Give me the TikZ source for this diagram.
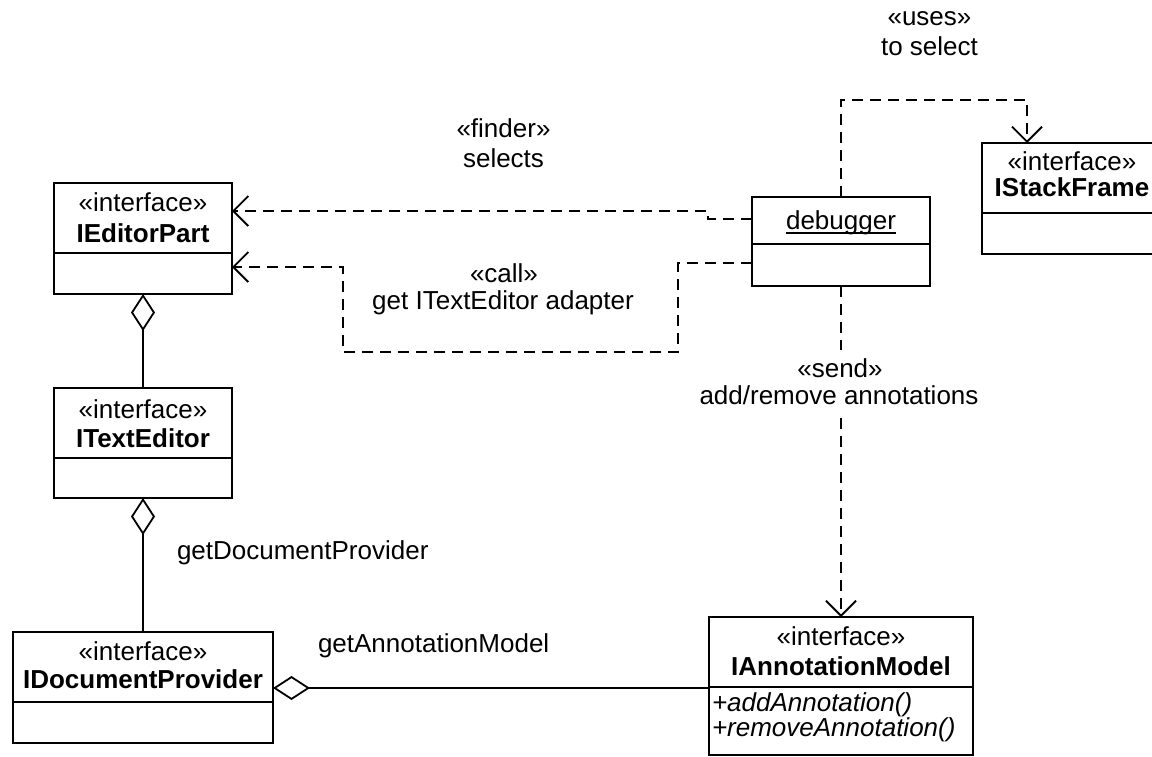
\documentclass[tikz,border=0pt]{standalone}
\usepackage{fontspec}
\setmainfont{Liberation Sans}
\usetikzlibrary{arrows.meta,calc}
\begin{document}
\begin{tikzpicture}[x=1pt,y=-1pt,
  every node/.style={font=\fontsize{26}{30}\selectfont, inner sep=0pt, outer sep=0pt},
  umlbox/.style={draw, line width=2.6pt, rectangle, inner sep=0pt},
  part/.style={line width=2.6pt},
  lbl/.style={anchor=base},
  lblw/.style={anchor=base west},
  cname/.style={anchor=base, font=\fontsize{26}{30}\selectfont\bfseries},
  oper/.style={anchor=base west, font=\fontsize{26}{30}\selectfont\itshape},
  dashline/.style={line width=1.8pt, dash pattern=on 11pt off 7pt},
  dep/.style={dashline, -{Straight Barb[length=15pt,width=30pt,line width=1.8pt]}},
  agg/.style={line width=1.8pt, {Diamond[open,length=37pt,width=24pt,line width=1.8pt]}-},
]
\useasboundingbox (0,0) rectangle (1152,756);

% ---- class boxes ----
\node[umlbox, minimum width=178pt, minimum height=111pt] (ep)  at (143,238.5) {};
\node[umlbox, minimum width=178pt, minimum height=110pt] (te)  at (143,443) {};
\node[umlbox, minimum width=260pt, minimum height=111pt] (dp)  at (143,687.5) {};
\node[umlbox, minimum width=178pt, minimum height=89pt]  (dbg) at (841,241.5) {};
\node[umlbox, minimum width=179pt, minimum height=111pt] (sf)  at (1071.5,198.5) {};
\node[umlbox, minimum width=264pt, minimum height=138pt] (am)  at (841,686) {};

% compartment dividers
\draw[part] ($(ep.north west)+(0,70)$) -- ($(ep.north east)+(0,70)$);
\draw[part] ($(te.north west)+(0,70)$) -- ($(te.north east)+(0,70)$);
\draw[part] ($(dp.north west)+(0,70)$) -- ($(dp.north east)+(0,70)$);
\draw[part] ($(dbg.north west)+(0,47)$) -- ($(dbg.north east)+(0,47)$);
\draw[part] ($(sf.north west)+(0,70)$) -- ($(sf.north east)+(0,70)$);
\draw[part] ($(am.north west)+(0,70)$) -- ($(am.north east)+(0,70)$);

% ---- class texts ----
\node[lbl]   (ep-s) at (143,211) {«interface»};
\node[cname] (ep-n) at (143,242) {IEditorPart};
\node[lbl]   (te-s) at (143,418) {«interface»};
\node[cname] (te-n) at (143,447) {ITextEditor};
\node[lbl]   (dp-s) at (143,660) {«interface»};
\node[cname] (dp-n) at (143,688) {IDocumentProvider};
\node[lbl]   (sf-s) at (1072,170) {«interface»};
\node[cname] (sf-n) at (1072,196) {IStackFrame};
\node[lbl]   (am-s) at (841,645) {«interface»};
\node[cname] (am-n) at (841,675) {IAnnotationModel};
\node[oper]  (am-o1) at (712,711) {+addAnnotation()};
\node[oper]  (am-o2) at (712,736) {+removeAnnotation()};
\node[lbl]   (dbg-n) at (841,229) {debugger};
\draw[line width=1.8pt] ($(dbg-n.base west)+(0,4)$) -- ($(dbg-n.base east)+(0,4)$);

% ---- connector labels ----
\node[lbl]  (uses1)   at (929.5,25)  {«uses»};
\node[lbl]  (uses2)   at (929.5,55)  {to select};
\node[lbl]  (finder1) at (503.5,137) {«finder»};
\node[lbl]  (finder2) at (503.5,167) {selects};
\node[lbl]  (call1)   at (504,282)   {«call»};
\node[lbl]  (call2)   at (503,309)   {get ITextEditor adapter};
\node[lbl]  (send1)   at (840,377)   {«send»};
\node[lbl]  (send2)   at (839,404)   {add/remove annotations};
\node[lblw] (gam)     at (318,652)   {getAnnotationModel};
\node[lblw] (gdp)     at (177,559)   {getDocumentProvider};

% ---- aggregations ----
\draw[agg] (ep.south) -- (te.north);
\draw[agg] (te.south) -- (dp.north);
\draw[agg] (dp.east |- 0,688) -- (am.west |- 0,688);

% ---- dependencies from the debugger ----
\draw[dep] ($(dbg.north west)+(0,22)$) -- (708,219) -- (708,211) -- ($(ep.north east)+(0,28)$);
\draw[dep] ($(dbg.north west)+(0,66)$) -- (678,263) -- (678,352) -- (343,352) -- (343,267) -- ($(ep.north east)+(0,84)$);
\draw[dep] (dbg.north) |- (1027,100) -- (sf.north west -| 1027,0);
\coordinate (sendA) at (dbg.south |- 0,350);
\coordinate (sendB) at (dbg.south |- 0,418);
\draw[dashline] (dbg.south) -- (sendA);
\draw[dep] (sendB) -- (am.north);
\end{tikzpicture}
\end{document}
